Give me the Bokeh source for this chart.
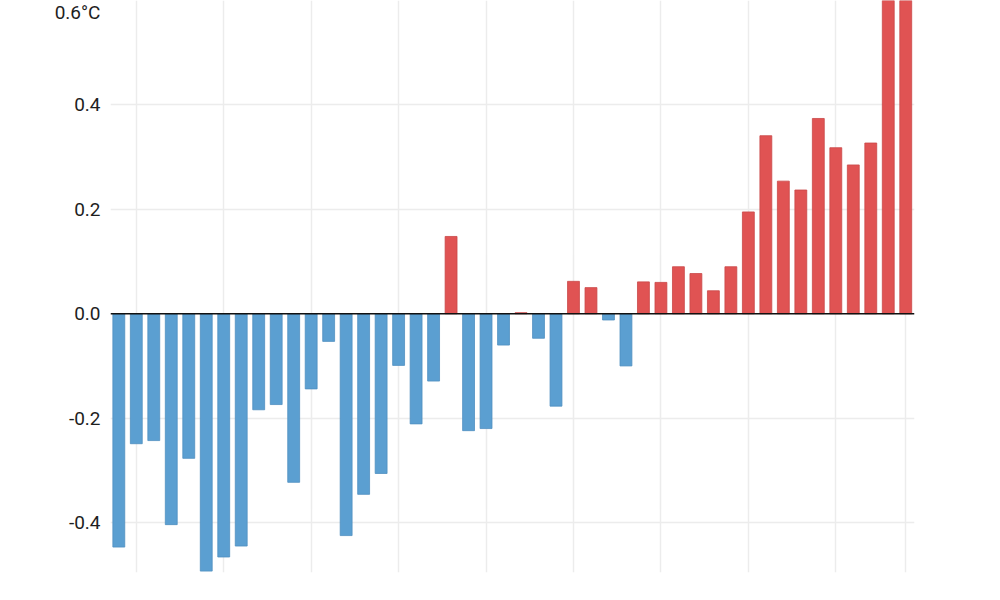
from bokeh.plotting import figure
from bokeh.models import ColumnDataSource, Range1d, FixedTicker, Span
from bokeh.embed import file_html
from bokeh.resources import INLINE

years = list(range(1969, 2015))
anomalies = [-0.447, -0.249, -0.243, -0.404, -0.277, -0.493, -0.466, -0.445, -0.184, -0.174,
             -0.323, -0.144, -0.053, -0.425, -0.346, -0.306, -0.099, -0.211, -0.129, 0.148,
             -0.224, -0.220, -0.060, 0.002, -0.047, -0.177, 0.062, 0.050, -0.012, -0.100,
             0.061, 0.060, 0.090, 0.077, 0.044, 0.090, 0.195, 0.341, 0.254, 0.237,
             0.374, 0.318, 0.285, 0.327, 0.65, 0.70]
y_ticks = [-0.4, -0.2, 0.0, 0.2, 0.4, 0.6]
y_tick_labels = ["-0.4", "-0.2", "0.0", "0.2", "0.4", "0.6°C"]
x_grid_years = [1970, 1975, 1980, 1985, 1990, 1995, 2000, 2005, 2010, 2014]

RED = "#e05353"
BLUE = "#5b9fd1"
colors = [RED if v >= 0 else BLUE for v in anomalies]
lines = ["#c94747" if v >= 0 else "#4f8fc0" for v in anomalies]

src = ColumnDataSource(dict(year=years, val=anomalies, color=colors, line=lines))

p = figure(width=984, height=584, output_backend="svg", toolbar_location=None,
           x_range=Range1d(1968.525, 2014.5), y_range=Range1d(-0.4957, 0.6),
           min_border_left=110, min_border_right=70, min_border_top=0, min_border_bottom=12)
p.outline_line_color = None
p.background_fill_color = "white"
p.border_fill_color = "white"

p.vbar(x="year", top="val", bottom=0, width=0.68, fill_color="color", line_color="line",
       line_width=0.8, source=src)

zero = Span(location=0, dimension="width", line_color="#111111", line_width=1.5)
p.add_layout(zero)

p.xaxis.visible = False
p.xgrid.ticker = FixedTicker(ticks=x_grid_years)
p.xgrid.grid_line_color = "#ececec"
p.xgrid.grid_line_width = 1.5
p.ygrid.ticker = FixedTicker(ticks=[-0.4, -0.2, 0.2, 0.4])
p.ygrid.grid_line_color = "#ececec"
p.ygrid.grid_line_width = 1.5

FONT = "Roboto"
p.yaxis.ticker = FixedTicker(ticks=y_ticks)
p.yaxis.major_label_overrides = {t: l for t, l in zip(y_ticks, y_tick_labels)}
p.yaxis.axis_line_color = None
p.yaxis.major_tick_line_color = None
p.yaxis.minor_tick_line_color = None
p.yaxis.major_tick_out = 0
p.yaxis.major_tick_in = 0
p.yaxis.major_label_standoff = 10
p.yaxis.major_label_text_font = FONT
p.yaxis.major_label_text_font_size = "19px"
p.yaxis.major_label_text_color = "#1e1e1e"

open("out.html", "w").write(file_html(p, INLINE))
